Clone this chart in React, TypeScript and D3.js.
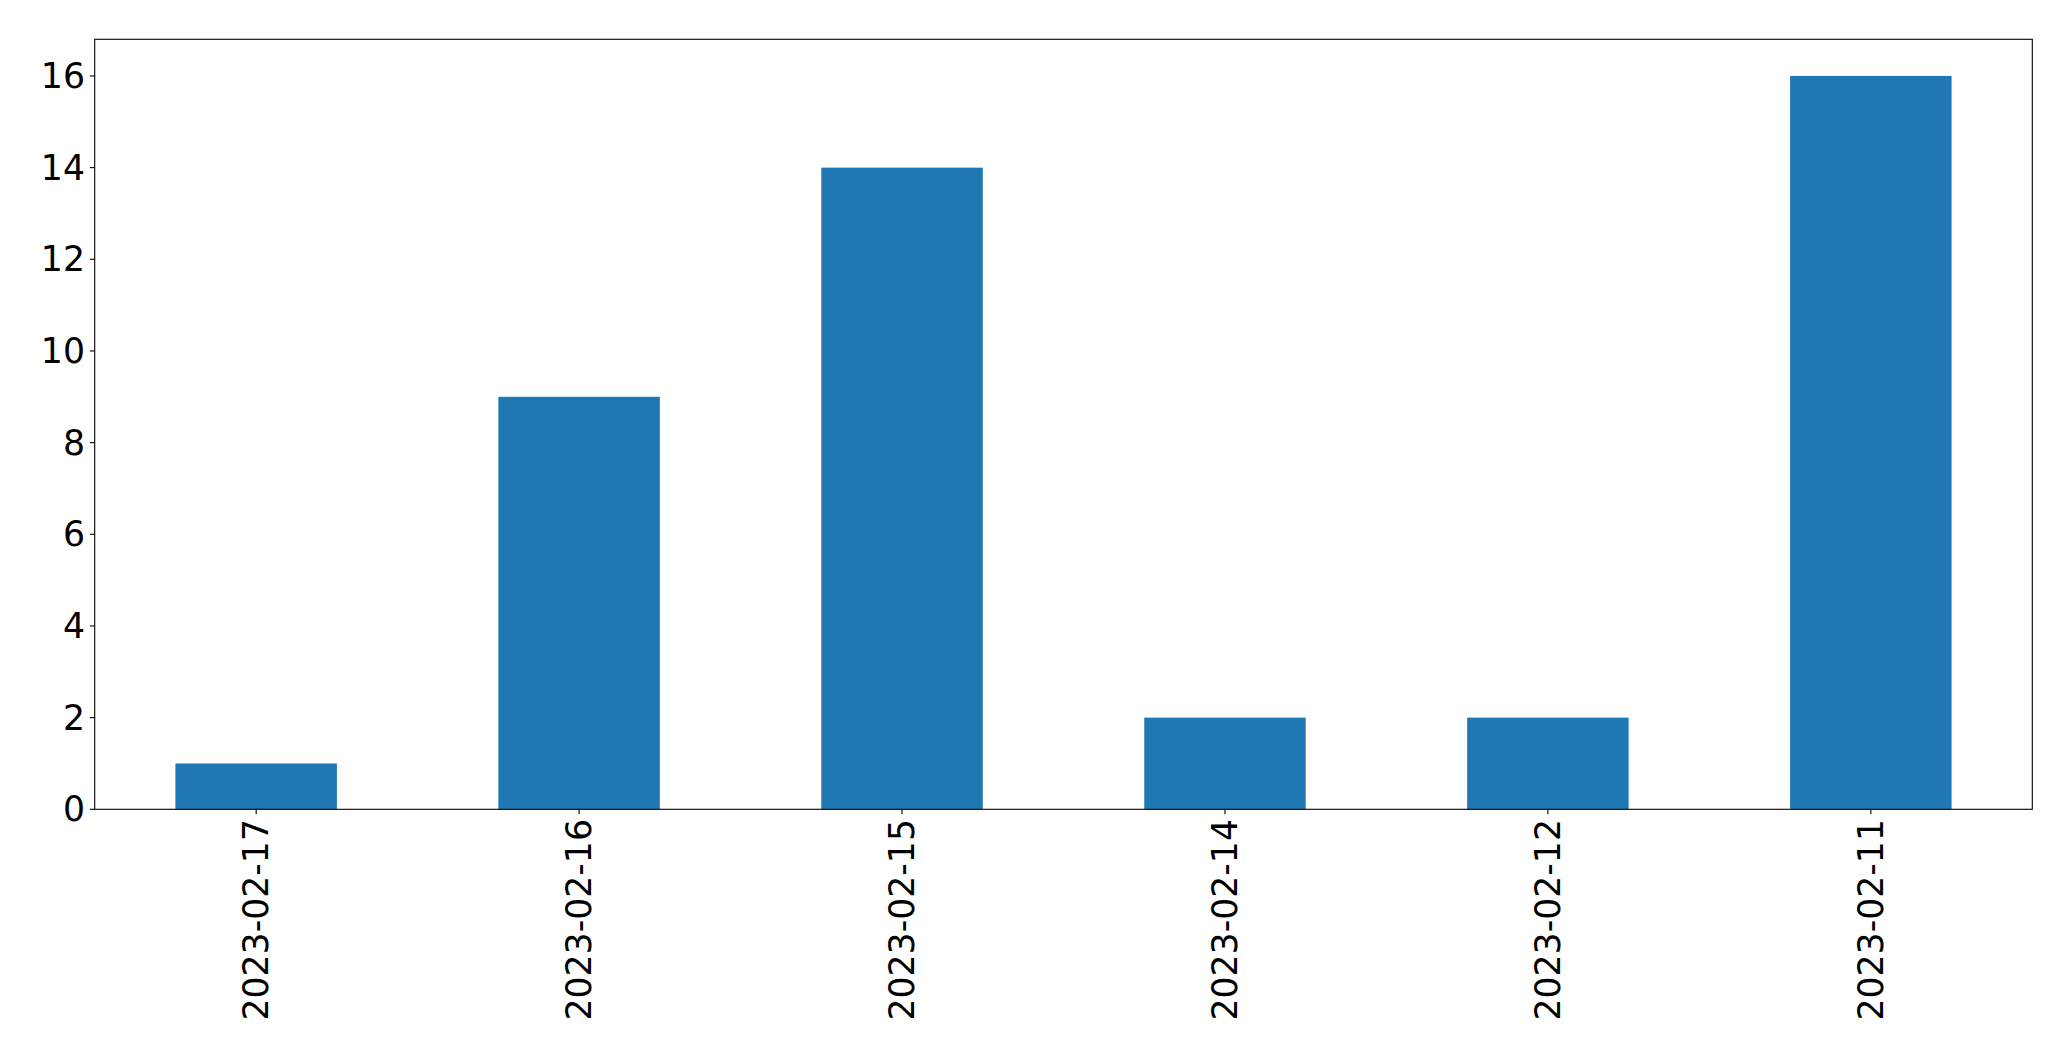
import React from "react";
import * as d3 from "d3";

const categories = ["2023-02-17", "2023-02-16", "2023-02-15", "2023-02-14", "2023-02-12", "2023-02-11"];
const values = [1, 9, 14, 2, 2, 16];
const yTicks = [0, 2, 4, 6, 8, 10, 12, 14, 16];

const W = 2071;
const H = 1061;
const left = 94.7;
const right = 2032.3;
const top = 39.3;
const bottom = 809.3;
const fontSize = 34.7;
const tickLen = 4.86;
const pad = 4.86;

export default function App() {
  const x = d3
    .scaleLinear()
    .domain([-0.5, categories.length - 0.5])
    .range([left, right]);
  const y = d3.scaleLinear().domain([0, 16.8]).range([bottom, top]);
  const barW = x(0.25) - x(-0.25);
  const font = "'DejaVu Sans', sans-serif";

  return (
    <svg
      width={W}
      height={H}
      style={{ position: "absolute", left: 0, top: 0, background: "#fff" }}
      fontFamily={font}
    >
      <rect x={0} y={0} width={W} height={H} fill="#fff" />
      {values.map((v, i) => (
        <rect
          key={i}
          x={x(i) - barW / 2}
          y={y(v)}
          width={barW}
          height={y(0) - y(v)}
          fill="#1f77b4"
        />
      ))}
      <rect
        x={left}
        y={top}
        width={right - left}
        height={bottom - top}
        fill="none"
        stroke="#000"
        strokeWidth={1.1}
      />
      {yTicks.map((t) => (
        <g key={t}>
          <line x1={left - tickLen} x2={left} y1={y(t)} y2={y(t)} stroke="#000" strokeWidth={1.1} />
          <text
            x={left - tickLen - pad}
            y={y(t)}
            textAnchor="end"
            dominantBaseline="central"
            fontSize={fontSize}
            fill="#000"
          >
            {t}
          </text>
        </g>
      ))}
      {categories.map((c, i) => (
        <g key={c}>
          <line x1={x(i)} x2={x(i)} y1={bottom} y2={bottom + tickLen} stroke="#000" strokeWidth={1.1} />
          <text
            transform={`translate(${x(i)},${bottom + tickLen + pad}) rotate(-90)`}
            textAnchor="end"
            dominantBaseline="central"
            fontSize={fontSize}
            fill="#000"
          >
            {c}
          </text>
        </g>
      ))}
    </svg>
  );
}
